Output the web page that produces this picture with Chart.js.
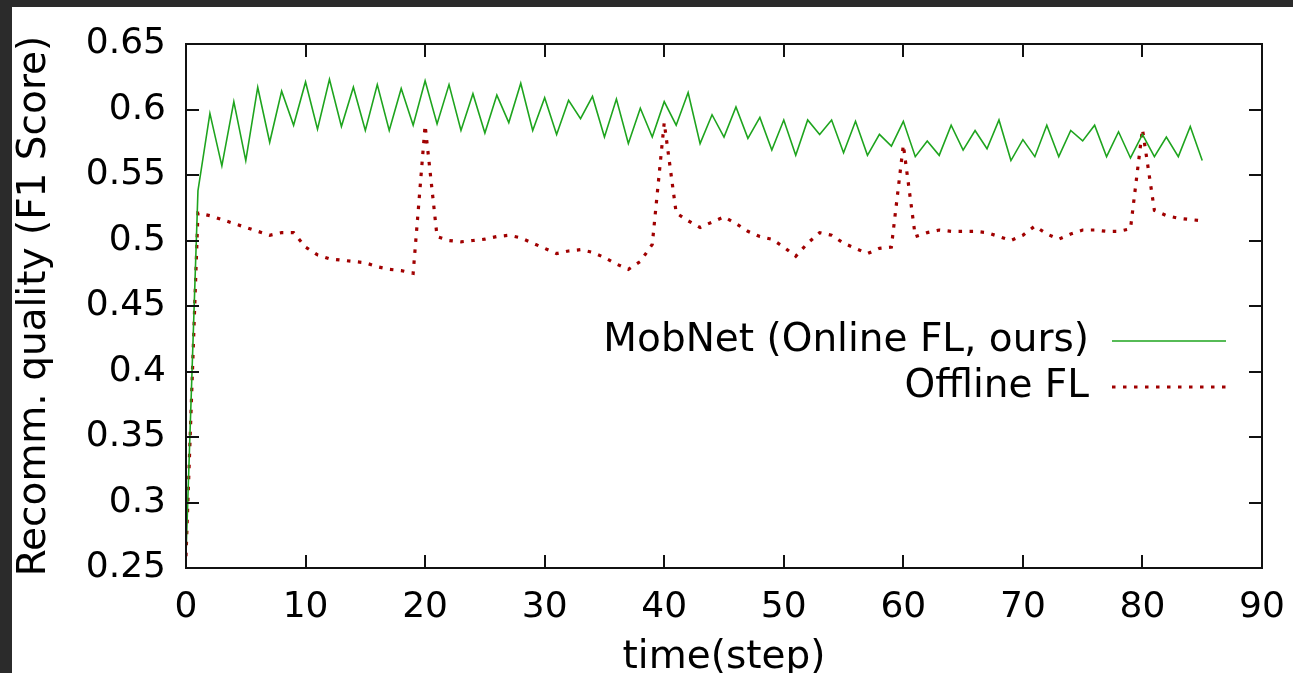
<!DOCTYPE html>
<html>
<head>
<meta charset="utf-8">
<title>Recomm. quality over time</title>
<script src="https://cdn.jsdelivr.net/npm/chart.js@4.4.1/dist/chart.umd.min.js"></script>
<style>
  html, body { margin: 0; padding: 0; background: #2b2b2b; overflow: hidden; }
  #sheet { position: absolute; left: 12px; top: 7px; right: 0; bottom: 0; background: #fff; }
  #wrap { position: absolute; left: 0; top: 0; width: 1293px; height: 673px; }
</style>
</head>
<body>
<div id="sheet"></div>
<div id="wrap"><canvas id="chart" width="1293" height="673"></canvas></div>
<script>
// time steps (x)
const steps = [
  0, 1, 2, 3, 4, 5, 6, 7, 8, 9, 10, 11, 12, 13, 14, 15, 16, 17, 18, 19,
  20, 21, 22, 23, 24, 25, 26, 27, 28, 29, 30, 31, 32, 33, 34, 35, 36, 37, 38, 39,
  40, 41, 42, 43, 44, 45, 46, 47, 48, 49, 50, 51, 52, 53, 54, 55, 56, 57, 58, 59,
  60, 61, 62, 63, 64, 65, 66, 67, 68, 69, 70, 71, 72, 73, 74, 75, 76, 77, 78, 79,
  80, 81, 82, 83, 84, 85
];

// F1 score, MobNet (online FL)
const mobnetF1 = [
  0.260, 0.538, 0.597, 0.557, 0.606, 0.561, 0.617, 0.575, 0.614, 0.588,
  0.621, 0.585, 0.623, 0.587, 0.617, 0.584, 0.619, 0.584, 0.616, 0.588,
  0.622, 0.589, 0.619, 0.584, 0.612, 0.582, 0.611, 0.590, 0.620, 0.584,
  0.609, 0.581, 0.607, 0.593, 0.610, 0.579, 0.608, 0.574, 0.601, 0.579,
  0.606, 0.588, 0.613, 0.574, 0.596, 0.579, 0.602, 0.578, 0.594, 0.569,
  0.592, 0.565, 0.592, 0.581, 0.592, 0.567, 0.591, 0.565, 0.581, 0.572,
  0.591, 0.564, 0.576, 0.565, 0.588, 0.569, 0.584, 0.570, 0.592, 0.561,
  0.577, 0.564, 0.588, 0.564, 0.584, 0.576, 0.588, 0.564, 0.583, 0.563,
  0.581, 0.564, 0.579, 0.564, 0.587, 0.561
];

// F1 score, offline FL
const offlineF1 = [
  0.259, 0.521, 0.519, 0.516, 0.513, 0.510, 0.507, 0.504, 0.506, 0.506,
  0.495, 0.489, 0.486, 0.485, 0.484, 0.483, 0.480, 0.478, 0.477, 0.475,
  0.588, 0.503, 0.500, 0.499, 0.500, 0.501, 0.503, 0.504, 0.502, 0.498,
  0.494, 0.490, 0.492, 0.493, 0.491, 0.487, 0.482, 0.478, 0.484, 0.497,
  0.590, 0.521, 0.515, 0.510, 0.514, 0.518, 0.513, 0.507, 0.503, 0.501,
  0.495, 0.488, 0.498, 0.506, 0.504, 0.498, 0.494, 0.490, 0.494, 0.495,
  0.573, 0.503, 0.506, 0.508, 0.507, 0.507, 0.507, 0.506, 0.503, 0.500,
  0.504, 0.511, 0.505, 0.501, 0.505, 0.508, 0.508, 0.507, 0.507, 0.509,
  0.585, 0.523, 0.519, 0.517, 0.516, 0.515
];

const seriesNames = ['MobNet (Online FL, ours)', 'Offline FL'];
const xTickValues = [0, 10, 20, 30, 40, 50, 60, 70, 80, 90];
const yTickValues = [0.25, 0.3, 0.35, 0.4, 0.45, 0.5, 0.55, 0.6, 0.65];

const FONT = 'DejaVu Sans';
const GREEN = '#1ea41e';
const RED = '#a00000';

const toPoints = (vals) => steps.map((s, i) => ({ x: s, y: vals[i] }));

// gnuplot-like box with inward ticks on all sides + key on the right
const gnuplotFrame = {
  id: 'gnuplotFrame',
  afterDraw(chart) {
    const { ctx, chartArea: a, scales: { x, y } } = chart;
    const tick = 13;
    ctx.save();
    ctx.strokeStyle = '#111';
    ctx.lineWidth = 2;
    ctx.beginPath();
    yTickValues.forEach(v => {
      const py = Math.round(y.getPixelForValue(v));
      ctx.moveTo(a.left, py); ctx.lineTo(a.left + tick, py);
      ctx.moveTo(a.right, py); ctx.lineTo(a.right - tick, py);
    });
    xTickValues.forEach(v => {
      const px = Math.round(x.getPixelForValue(v));
      ctx.moveTo(px, a.bottom); ctx.lineTo(px, a.bottom - tick);
      ctx.moveTo(px, a.top); ctx.lineTo(px, a.top + tick);
    });
    ctx.stroke();
    ctx.strokeRect(a.left, a.top, a.right - a.left, a.bottom - a.top);

    // key
    ctx.font = '39px "' + FONT + '"';
    ctx.fillStyle = '#000';
    ctx.textAlign = 'right';
    ctx.textBaseline = 'middle';
    const rows = [341, 387];
    chart.data.datasets.forEach((ds, i) => {
      const ry = rows[i];
      ctx.fillText(ds.label, 1089, ry);
      ctx.beginPath();
      ctx.strokeStyle = ds.borderColor;
      ctx.lineWidth = ds.borderWidth;
      ctx.setLineDash(ds.borderDash || []);
      ctx.moveTo(1112, ry); ctx.lineTo(1226, ry);
      ctx.stroke();
      ctx.setLineDash([]);
    });
    ctx.restore();
  }
};

new Chart(document.getElementById('chart'), {
  type: 'line',
  data: {
    datasets: [
      {
        label: seriesNames[0],
        data: toPoints(mobnetF1),
        borderColor: GREEN,
        borderWidth: 1.6,
        pointRadius: 0,
        tension: 0
      },
      {
        label: seriesNames[1],
        data: toPoints(offlineF1),
        borderColor: RED,
        borderWidth: 3.2,
        borderDash: [3.5, 7.5],
        borderCapStyle: 'butt',
        pointRadius: 0,
        tension: 0
      }
    ]
  },
  options: {
    responsive: false,
    animation: false,
    devicePixelRatio: 1,
    layout: { padding: { left: 0, right: 31, top: 44, bottom: 0 } },
    plugins: { legend: { display: false }, tooltip: { enabled: false } },
    scales: {
      x: {
        type: 'linear',
        min: 0,
        max: 90,
        afterBuildTicks: s => { s.ticks = xTickValues.map(v => ({ value: v })); },
        afterFit: s => { s.height = 105; s.paddingLeft = 0; s.paddingRight = 0; },
        grid: { display: false, drawTicks: false },
        border: { display: false },
        ticks: {
          color: '#000',
          padding: 18,
          maxRotation: 0,
          font: { family: FONT, size: 36 }
        },
        title: {
          display: true,
          text: 'time(step)',
          color: '#000',
          font: { family: FONT, size: 39, lineHeight: 0.77 },
          padding: { top: 0, bottom: 0 }
        }
      },
      y: {
        min: 0.25,
        max: 0.65,
        afterBuildTicks: s => { s.ticks = yTickValues.map(v => ({ value: v })); },
        afterFit: s => { s.width = 186; s.paddingTop = 0; s.paddingBottom = 0; },
        grid: { display: false, drawTicks: false },
        border: { display: false },
        ticks: {
          color: '#000',
          padding: 20,
          font: { family: FONT, size: 36 },
          callback: v => String(+v.toFixed(2))
        },
        title: {
          display: true,
          text: 'Recomm. quality (F1 Score)',
          color: '#000',
          font: { family: FONT, size: 39, lineHeight: 1 },
          padding: { top: 15, bottom: 0 }
        }
      }
    }
  },
  plugins: [gnuplotFrame]
});
</script>
</body>
</html>
